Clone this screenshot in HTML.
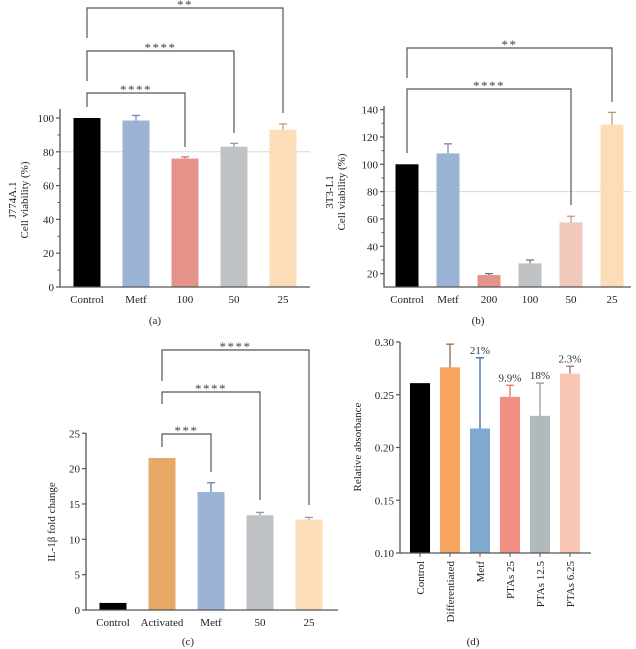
<!DOCTYPE html>
<html><head><meta charset="utf-8"><style>
body{margin:0;background:#fff;}
svg{display:block;font-family:"Liberation Serif",serif;}
</style></head><body>
<svg id="fig" width="636" height="649" viewBox="0 0 636 649" xmlns="http://www.w3.org/2000/svg"></svg>
<script>
// Panel A data
const aCats=["Control","Metf","100","50","25"];
const aVals=[100,98.5,76,83,93];
const aErr=[0,3,1,2,3.5];
const aTicks=[0,20,40,60,80,100];
// Panel B data
const bCats=["Control","Metf","200","100","50","25"];
const bVals=[100,108,19,27.5,57.5,129];
const bErr=[0,7,1,2.5,4.5,9];
const bTicks=[20,40,60,80,100,120,140];
// Panel C data
const cCats=["Control","Activated","Metf","50","25"];
const cVals=[1,21.5,16.7,13.4,12.8];
const cErr=[0,0,1.3,0.4,0.3];
const cTicks=[0,5,10,15,20,25];
// Panel D data
const dCats=["Control","Differentiated","Metf","PTAs 25","PTAs 12.5","PTAs 6.25"];
const dVals=[0.261,0.276,0.218,0.248,0.230,0.270];
const dErr=[0,0.022,0.067,0.011,0.031,0.007];
const dPct=["","","21%","9.9%","18%","2.3%"];
const dTicks=[0.10,0.15,0.20,0.25,0.30];

const NS="http://www.w3.org/2000/svg";
const svg=document.getElementById('fig');
function el(tag,attrs,parent,text){const e=document.createElementNS(NS,tag);for(const k in attrs)e.setAttribute(k,attrs[k]);if(text!==undefined)e.textContent=text;(parent||svg).appendChild(e);return e;}

function panel(o){
  const g=el('g',{});
  
  
  const y=v=>o.y0-(v-o.vmin)*o.scale;
  const x=i=>o.x0+o.xOff+i*o.step;
  if(o.ref!==undefined){const l=el('line',{x1:o.axX,x2:o.axEnd,y1:y(o.ref),y2:y(o.ref),stroke:'#d8d8d8','stroke-width':1},g);
    }
  o.vals.forEach((v,i)=>{
    const r=el('rect',{x:x(i)-o.bw/2,y:y(v),width:o.bw,height:o.axY-y(v),fill:o.colors[i]},g);
    
    
    if(o.err[i]>0){
      const t=y(v+o.err[i]);
      const eb=el('path',{d:`M${x(i)} ${y(v)}V${t}M${x(i)-4} ${t}H${x(i)+4}`,stroke:o.ecolors[i],'stroke-width':1.3,fill:'none'},g);
      
    }
    if(o.pct&&o.pct[i]){const t=el('text',{x:x(i),y:y(v+o.err[i])-4,'text-anchor':'middle','font-size':11,fill:'#333'},g,o.pct[i]);
      }
    let lt;
    if(o.rot){lt=el('text',{x:0,y:0,'text-anchor':'end','font-size':11,fill:'#222',transform:`translate(${x(i)+4},${o.axY+8}) rotate(-90)`},g,o.cats[i]);
      el('line',{x1:x(i),x2:x(i),y1:o.axY,y2:o.axY+4,stroke:'#555'},g);}
    else lt=el('text',{x:x(i),y:o.axY+16,'text-anchor':'middle','font-size':11,fill:'#222'},g,o.cats[i]);
    
  });
  const ax=el('path',{d:`M${o.axX} ${o.axTop}V${o.axY}H${o.axEnd}`,stroke:'#555','stroke-width':1.3,fill:'none'},g);
  
  o.ticks.forEach((t,k)=>{
    el('line',{x1:o.axX-4,x2:o.axX,y1:y(t),y2:y(t),stroke:'#555','stroke-width':1.2},g);
    if(k<o.ticks.length-1&&o.minor){const m=(t+o.ticks[k+1])/2;el('line',{x1:o.axX-2.5,x2:o.axX,y1:y(m),y2:y(m),stroke:'#555'},g);}
    const tl=el('text',{x:o.axX-6,y:y(t)+4,'text-anchor':'end','font-size':11,fill:'#222'},g,o.fmt?o.fmt(t):t);
    
  });
  const yt=el('text',{transform:`translate(${o.ytX},${o.ytY}) rotate(-90)`,'text-anchor':'middle','font-size':11,fill:'#222'},g);
  
  o.ytLines.forEach((s,k)=>el('tspan',{x:0,dy:k?12:0},yt,s));
  (o.br||[]).forEach(b=>{
    const p=el('path',{d:`M${x(b.i)} ${b.l}V${b.y}H${x(b.j)}V${b.r}`,stroke:'#555','stroke-width':1.2,fill:'none'},g);
    
    const s=el('text',{x:(x(b.i)+x(b.j))/2,y:b.y+1,'text-anchor':'middle','font-size':13,'letter-spacing':1.5,fill:'#444'},g,b.s);
    
  });
  const cap=el('text',{x:o.capX,y:o.capY,'text-anchor':'middle','font-size':11,fill:'#222'},g,o.cap);
  
}

panel({name:'panel-a',cats:aCats,vals:aVals,err:aErr,ticks:aTicks,vmin:0,y0:287,scale:1.69,x0:87,xOff:0,step:49,bw:27,
 axX:60,axY:287,axTop:109,axEnd:310,ref:80,minor:true,
 colors:['#000','#9bb3d4','#e5938a','#bfc3c6','#fddcb8'],ecolors:['#000','#6d8bb5','#c87066','#999','#c9a17c'],
 ytX:16,ytY:200,ytLines:['J774A.1','Cell viability (%)'],
 br:[{i:0,j:2,y:93,l:107,r:147,s:'****'},{i:0,j:3,y:51,l:81,r:133,s:'****'},{i:0,j:4,y:8,l:38,r:113,s:'**'}],
 cap:'(a)',capX:155,capY:324});

panel({name:'panel-b',cats:bCats,vals:bVals,err:bErr,ticks:bTicks,vmin:0,y0:301,scale:1.367,x0:407,xOff:0,step:41,bw:23,
 axX:384,axY:287,axTop:106,axEnd:631,ref:80,minor:true,
 colors:['#000','#9bb3d4','#e5938a','#bfc3c6','#f1cabc','#fddcb8'],ecolors:['#000','#7d90a8','#5a6f9a','#777','#c29888','#b89a80'],
 ytX:333,ytY:192,ytLines:['3T3-L1','Cell viability (%)'],
 br:[{i:0,j:4,y:89,l:153,r:205,s:'****'},{i:0,j:5,y:48,l:78,r:102,s:'**'}],
 cap:'(b)',capX:478,capY:324});

panel({name:'panel-c',cats:cCats,vals:cVals,err:cErr,ticks:cTicks,vmin:0,y0:610,scale:7.07,x0:113,xOff:0,step:49,bw:27,
 axX:86,axY:610,axTop:433,axEnd:338,minor:false,
 colors:['#000','#e8a866','#9bb3d4','#bfc3c6','#fddcb8'],ecolors:['#000','#c08040','#5f7ea8','#999','#999'],
 ytX:55,ytY:522,ytLines:['IL-1β fold change'],
 br:[{i:1,j:2,y:434,l:447,r:472,s:'***'},{i:1,j:3,y:392,l:404,r:500,s:'****'},{i:1,j:4,y:350,l:381,r:505,s:'****'}],
 cap:'(c)',capX:188,capY:645});

panel({name:'panel-d',cats:dCats,vals:dVals,err:dErr,pct:dPct,ticks:dTicks,vmin:0.10,y0:553,scale:1055,x0:420,xOff:0,step:30,bw:20,
 axX:400,axY:553,axTop:342,axEnd:591,minor:false,fmt:t=>t.toFixed(2),rot:true,
 colors:['#000','#f6a45e','#80abcf','#f28f84','#b0babd','#f9c5b5'],ecolors:['#000','#8a6a50','#3a6fa0','#e07068','#999','#a07060'],
 ytX:361,ytY:447,ytLines:['Relative absorbance'],
 cap:'(d)',capX:473,capY:645});
</script>
</body></html>
